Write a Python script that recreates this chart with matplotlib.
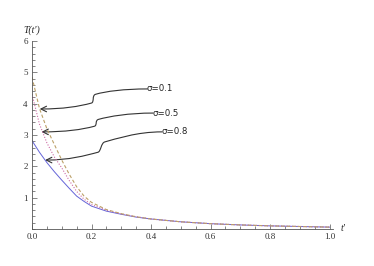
import matplotlib
matplotlib.use("Agg")
import matplotlib.pyplot as plt
from matplotlib.path import Path
from matplotlib.patches import FancyArrowPatch
from matplotlib.ticker import MultipleLocator, FixedLocator

# values
t_vals = [0.0, 0.025, 0.05, 0.075, 0.1, 0.125, 0.15, 0.175, 0.2, 0.25,
          0.3, 0.35, 0.4, 0.5, 0.6, 0.7, 0.8, 0.9, 1.0]
T_blue = [2.82, 2.45, 2.12, 1.83, 1.56, 1.30, 1.05, 0.88, 0.73, 0.57,
          0.47, 0.38, 0.32, 0.23, 0.17, 0.13, 0.10, 0.08, 0.06]
T_pink = [4.30, 3.35, 2.75, 2.30, 1.95, 1.55, 1.20, 0.95, 0.78, 0.60,
          0.48, 0.39, 0.32, 0.23, 0.17, 0.13, 0.10, 0.08, 0.06]
T_gold = [4.85, 3.85, 3.20, 2.70, 2.20, 1.75, 1.35, 1.05, 0.85, 0.62,
          0.49, 0.39, 0.32, 0.23, 0.17, 0.13, 0.10, 0.08, 0.06]

sigma_labels = ["σ=0.1", "σ=0.5", "σ=0.8"]
# where each arrow starts (label) and ends (on a curve), in data units
label_t = [0.388, 0.407, 0.437]
label_T = [4.47, 3.70, 3.10]
target_t = [0.026, 0.032, 0.044]
target_T = [3.83, 3.10, 2.20]
# kink of each arrow (top, bottom)
kink_top_t = [0.214, 0.224, 0.245]
kink_top_T = [4.30, 3.50, 2.78]
kink_bot_t = [0.200, 0.210, 0.222]
kink_bot_T = [4.02, 3.28, 2.45]

fig = plt.figure(figsize=(3.74, 2.66), dpi=100)
# x: 0 -> px 32, 1 -> px 329.5 ; y: 0 -> px 229, 6 -> px 41
ax = fig.add_axes([32/374, 37/266, 300.5/374, 188/266])
ax.set_xlim(0, 1.01)
ax.set_ylim(0, 6.0)

ax.plot(t_vals, T_blue, color="#6464d8", lw=0.7)
ax.plot(t_vals, T_pink, color="#cc6aa4", lw=0.8, ls=(0, (1, 1.5)))
ax.plot(t_vals, T_gold, color="#bca068", lw=0.8, ls=(0, (3, 2)))

# px per data unit, used to shape the arrow curves
sx = 297.5
sy = 31.33

for i in range(3):
    S = (label_t[i], label_T[i])
    A = (kink_top_t[i], kink_top_T[i])
    B = (kink_bot_t[i], kink_bot_T[i])
    E = (target_t[i], target_T[i])
    verts = [S,
             (S[0] - 0.45*(S[0]-A[0]), S[1]),
             (A[0] + 0.2*(S[0]-A[0]), A[1] + 3.0/sy),
             A,
             (A[0] - 4.0/sx, A[1] - 1.0/sy),
             (B[0] + 3.0/sx, B[1] + 1.0/sy),
             B,
             (B[0] - 0.25*(B[0]-E[0]), B[1] - 3.5/sy),
             (E[0] + 0.45*(B[0]-E[0]), E[1]),
             E]
    codes = [Path.MOVETO] + [Path.CURVE4]*9
    arr = FancyArrowPatch(path=Path(verts, codes),
                          arrowstyle="->,head_length=0.5,head_width=0.25",
                          mutation_scale=8, color="#333333", lw=0.8)
    ax.add_patch(arr)
    ax.text(S[0] - 0.003, S[1], sigma_labels[i], fontsize=6.2,
            family="DejaVu Sans", color="#222222", ha="left", va="center")

for side in ["top", "right"]:
    ax.spines[side].set_visible(False)
for side in ["left", "bottom"]:
    ax.spines[side].set_linewidth(0.6)
    ax.spines[side].set_color("#555555")

ax.xaxis.set_major_locator(FixedLocator([0.0, 0.2, 0.4, 0.6, 0.8, 1.0]))
ax.xaxis.set_minor_locator(MultipleLocator(0.05))
ax.yaxis.set_major_locator(FixedLocator([1, 2, 3, 4, 5, 6]))
ax.yaxis.set_minor_locator(MultipleLocator(0.2))
ax.set_xticklabels(["0.0", "0.2", "0.4", "0.6", "0.8", "1.0"])
ax.set_yticklabels(["1", "2", "3", "4", "5", "6"])
ax.tick_params(which="both", direction="in", width=0.5, colors="#555555",
               labelcolor="#333333", labelsize=6.5, pad=3)
ax.tick_params(which="major", length=3.5)
ax.tick_params(which="minor", length=2)
for lab in ax.get_xticklabels() + ax.get_yticklabels():
    lab.set_family("Liberation Serif")

ax.text(0.0, 6.35, "T(t')", fontsize=7, family="Liberation Serif",
        style="italic", ha="center", va="center", color="#222222")
ax.text(1.045, 0.02, "t'", fontsize=7, family="Liberation Serif",
        style="italic", ha="center", va="center", color="#222222")
ax.patch.set_alpha(0)

fig.savefig("out.png", dpi=100)
